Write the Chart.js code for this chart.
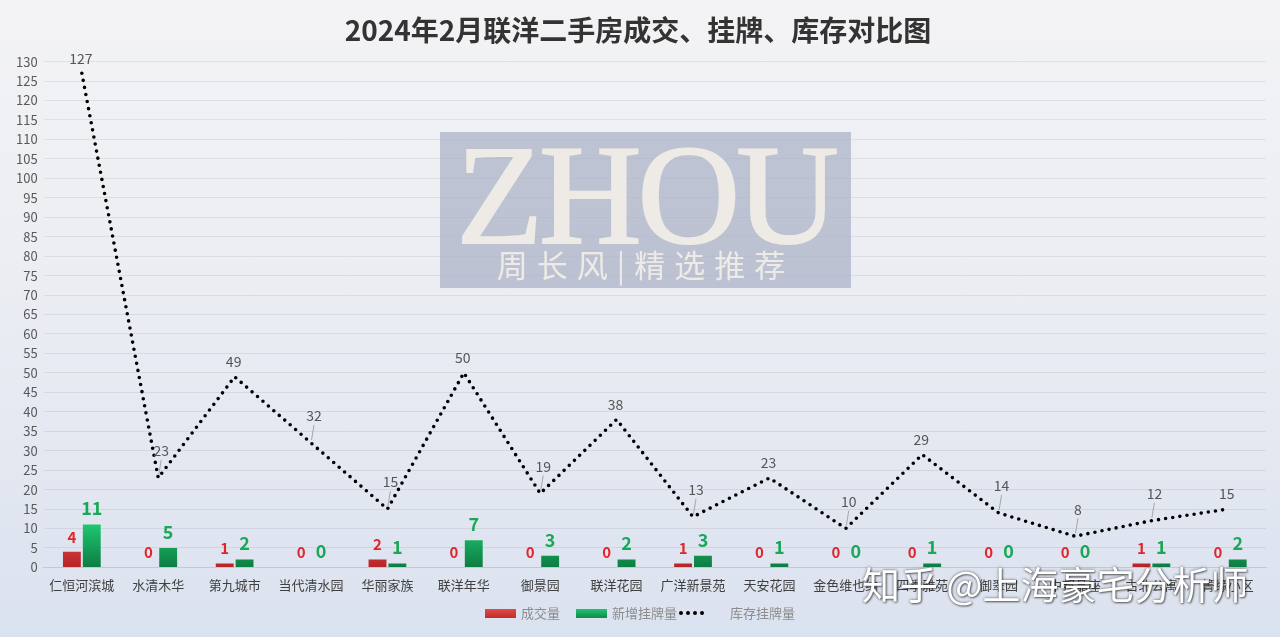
<!DOCTYPE html>
<html><head><meta charset="utf-8">
<script src="https://cdn.jsdelivr.net/npm/chart.js@4/dist/chart.umd.min.js"></script>
<style>
html,body{margin:0;padding:0;}
body{width:1280px;height:637px;overflow:hidden;background:linear-gradient(#f3f3f5 0%,#eceef3 40%,#dbe2ef 100%);font-family:"Noto Sans CJK SC","Noto Sans",sans-serif;}
#wrap{position:relative;width:1280px;height:637px;}
#wm{position:absolute;left:440px;top:132px;width:411px;height:156px;background:rgba(170,178,198,0.72);overflow:hidden;}
#wm .big{position:absolute;left:0;width:411px;top:-8px;text-align:center;font-family:"Liberation Serif",serif;font-size:142px;line-height:142px;color:#eeebe6;letter-spacing:-4px;-webkit-text-stroke:2px #eeebe6;}
#wm .small{position:absolute;left:0;width:411px;top:114px;text-align:center;font-size:31px;line-height:36px;color:#eeebe6;letter-spacing:9px;}
#zh{position:absolute;left:862px;top:561px;font-size:38px;line-height:44px;color:#fff;text-shadow:0 0 3px rgba(60,60,60,0.8),1px 1px 2px rgba(0,0,0,0.5);white-space:nowrap;}
#legend{position:absolute;left:0;top:603px;width:1280px;text-align:center;font-size:13px;line-height:18px;color:#8c8c8c;white-space:nowrap;}
#legend span{display:inline-block;vertical-align:middle;}
.sw{width:31px;height:9px;margin:0 5px 0 0;}
.dot{width:4px;height:4px;border-radius:2px;background:#000;margin-left:3px;}
</style></head>
<body><div id="wrap">
<canvas id="c" width="1280" height="637"></canvas>
<div id="wm"><div class="big">ZHOU</div><div class="small">周长风|精选推荐</div></div>
<div id="legend"><span class="sw" style="background:linear-gradient(#e24b4b,#c42a2a)"></span><span>成交量</span><span class="sw" style="background:linear-gradient(#22c472,#0f8a4a);margin-left:16px"></span><span>新增挂牌量</span><span class="dot" style="margin-left:2px"></span><span class="dot"></span><span class="dot"></span><span class="dot"></span><span style="margin-left:26px">库存挂牌量</span></div>
<div id="zh">知乎 @上海豪宅分析师</div>
</div>
<script>
const categories = ["仁恒河滨城","水清木华","第九城市","当代清水园","华丽家族","联洋年华","御景园","联洋花园","广洋新景苑","天安花园","金色维也纳","四季雅苑","御翠园","中邦晶座","古北公寓","箐缘小区"];
const dealCount = [4,0,1,0,2,0,0,0,1,0,0,0,0,0,1,0];
const newListings = [11,5,2,0,1,7,3,2,3,1,0,1,0,0,1,2];
const inventory = [127,23,49,32,15,50,19,38,13,23,10,29,14,8,12,15];
const yTicksMax = 130, yStep = 5;

function grad(chart, top, bot){
  const a = chart.chartArea; if(!a) return top;
  const y = chart.scales.y;
  const g = chart.ctx.createLinearGradient(0, y.getPixelForValue(12), 0, a.bottom);
  g.addColorStop(0, top); g.addColorStop(1, bot); return g;
}

const labelPlugin = {
  id:'labels',
  afterDatasetsDraw(chart){
    const ctx = chart.ctx;
    ctx.save();
    ctx.textAlign='center'; ctx.textBaseline='middle';
    const m0 = chart.getDatasetMeta(0), m1 = chart.getDatasetMeta(1), m2 = chart.getDatasetMeta(2);
    m0.data.forEach((el,i)=>{
      ctx.font='bold 15px "Noto Sans CJK SC"'; ctx.fillStyle='#e0262b';
      ctx.fillText(String(dealCount[i]), el.x, el.y-15);
    });
    m1.data.forEach((el,i)=>{
      ctx.font='bold 18px "Noto Sans CJK SC"'; ctx.fillStyle='#1aa858';
      ctx.fillText(String(newListings[i]), el.x, el.y-16);
    });
    ctx.font='14px "Noto Sans CJK SC"'; ctx.fillStyle='#555';
    m2.data.forEach((el,i)=>{
      const v = inventory[i];
      const prev = i>0?inventory[i-1]:-1, next = i<inventory.length-1?inventory[i+1]:-1;
      const peak = v>=prev && v>=next;
      if(peak){
        ctx.fillText(String(v), el.x-1, el.y-15);
      } else {
        const lx = el.x+3, ly = el.y-27;
        ctx.strokeStyle='#a6a6a6'; ctx.lineWidth=1;
        ctx.beginPath(); ctx.moveTo(el.x+0.5, el.y-3); ctx.lineTo(lx, ly+9); ctx.stroke();
        ctx.fillText(String(v), lx, ly);
      }
    });
    ctx.restore();
  }
};

new Chart(document.getElementById('c'), {
  data:{
    labels: categories,
    datasets:[
      {type:'bar', label:'成交量', data: dealCount, order:2,
       backgroundColor: c=>grad(c.chart,'#e85050','#b82426'),
       categoryPercentage:0.52, barPercentage:0.9},
      {type:'bar', label:'新增挂牌量', data: newListings, order:2,
       backgroundColor: c=>grad(c.chart,'#22cc76','#0c7d42'),
       categoryPercentage:0.52, barPercentage:0.9},
      {type:'line', label:'库存挂牌量', data: inventory, order:0,
       borderColor:'#000', borderWidth:3.6, borderDash:[0,7.2], borderCapStyle:'round',
       pointRadius:0, tension:0, fill:false}
    ]
  },
  options:{
    responsive:false, animation:false, devicePixelRatio:1,
    layout:{padding:{left:10,right:14,bottom:42,top:0}},
    plugins:{
      legend:{display:false}, tooltip:{enabled:false},
      title:{display:true, text:'2024年2月联洋二手房成交、挂牌、库存对比图', color:'#333',
        font:{size:28,weight:'bold',family:'"Noto Sans CJK SC"'}, padding:{top:14,bottom:14}}
    },
    scales:{
      x:{grid:{display:false}, border:{color:'#c8c8c8'},
         ticks:{color:'#404040', font:{size:13,family:'"Noto Sans CJK SC"'}, maxRotation:0, autoSkip:false, padding:2}},
      y:{min:0, max:yTicksMax, ticks:{stepSize:yStep, color:'#595959', font:{size:13,family:'"Noto Sans CJK SC"'}, padding:6},
         grid:{color:'rgba(0,0,0,0.07)', drawTicks:false}, border:{display:false}}
    }
  },
  plugins:[labelPlugin]
});
</script>
</body></html>
